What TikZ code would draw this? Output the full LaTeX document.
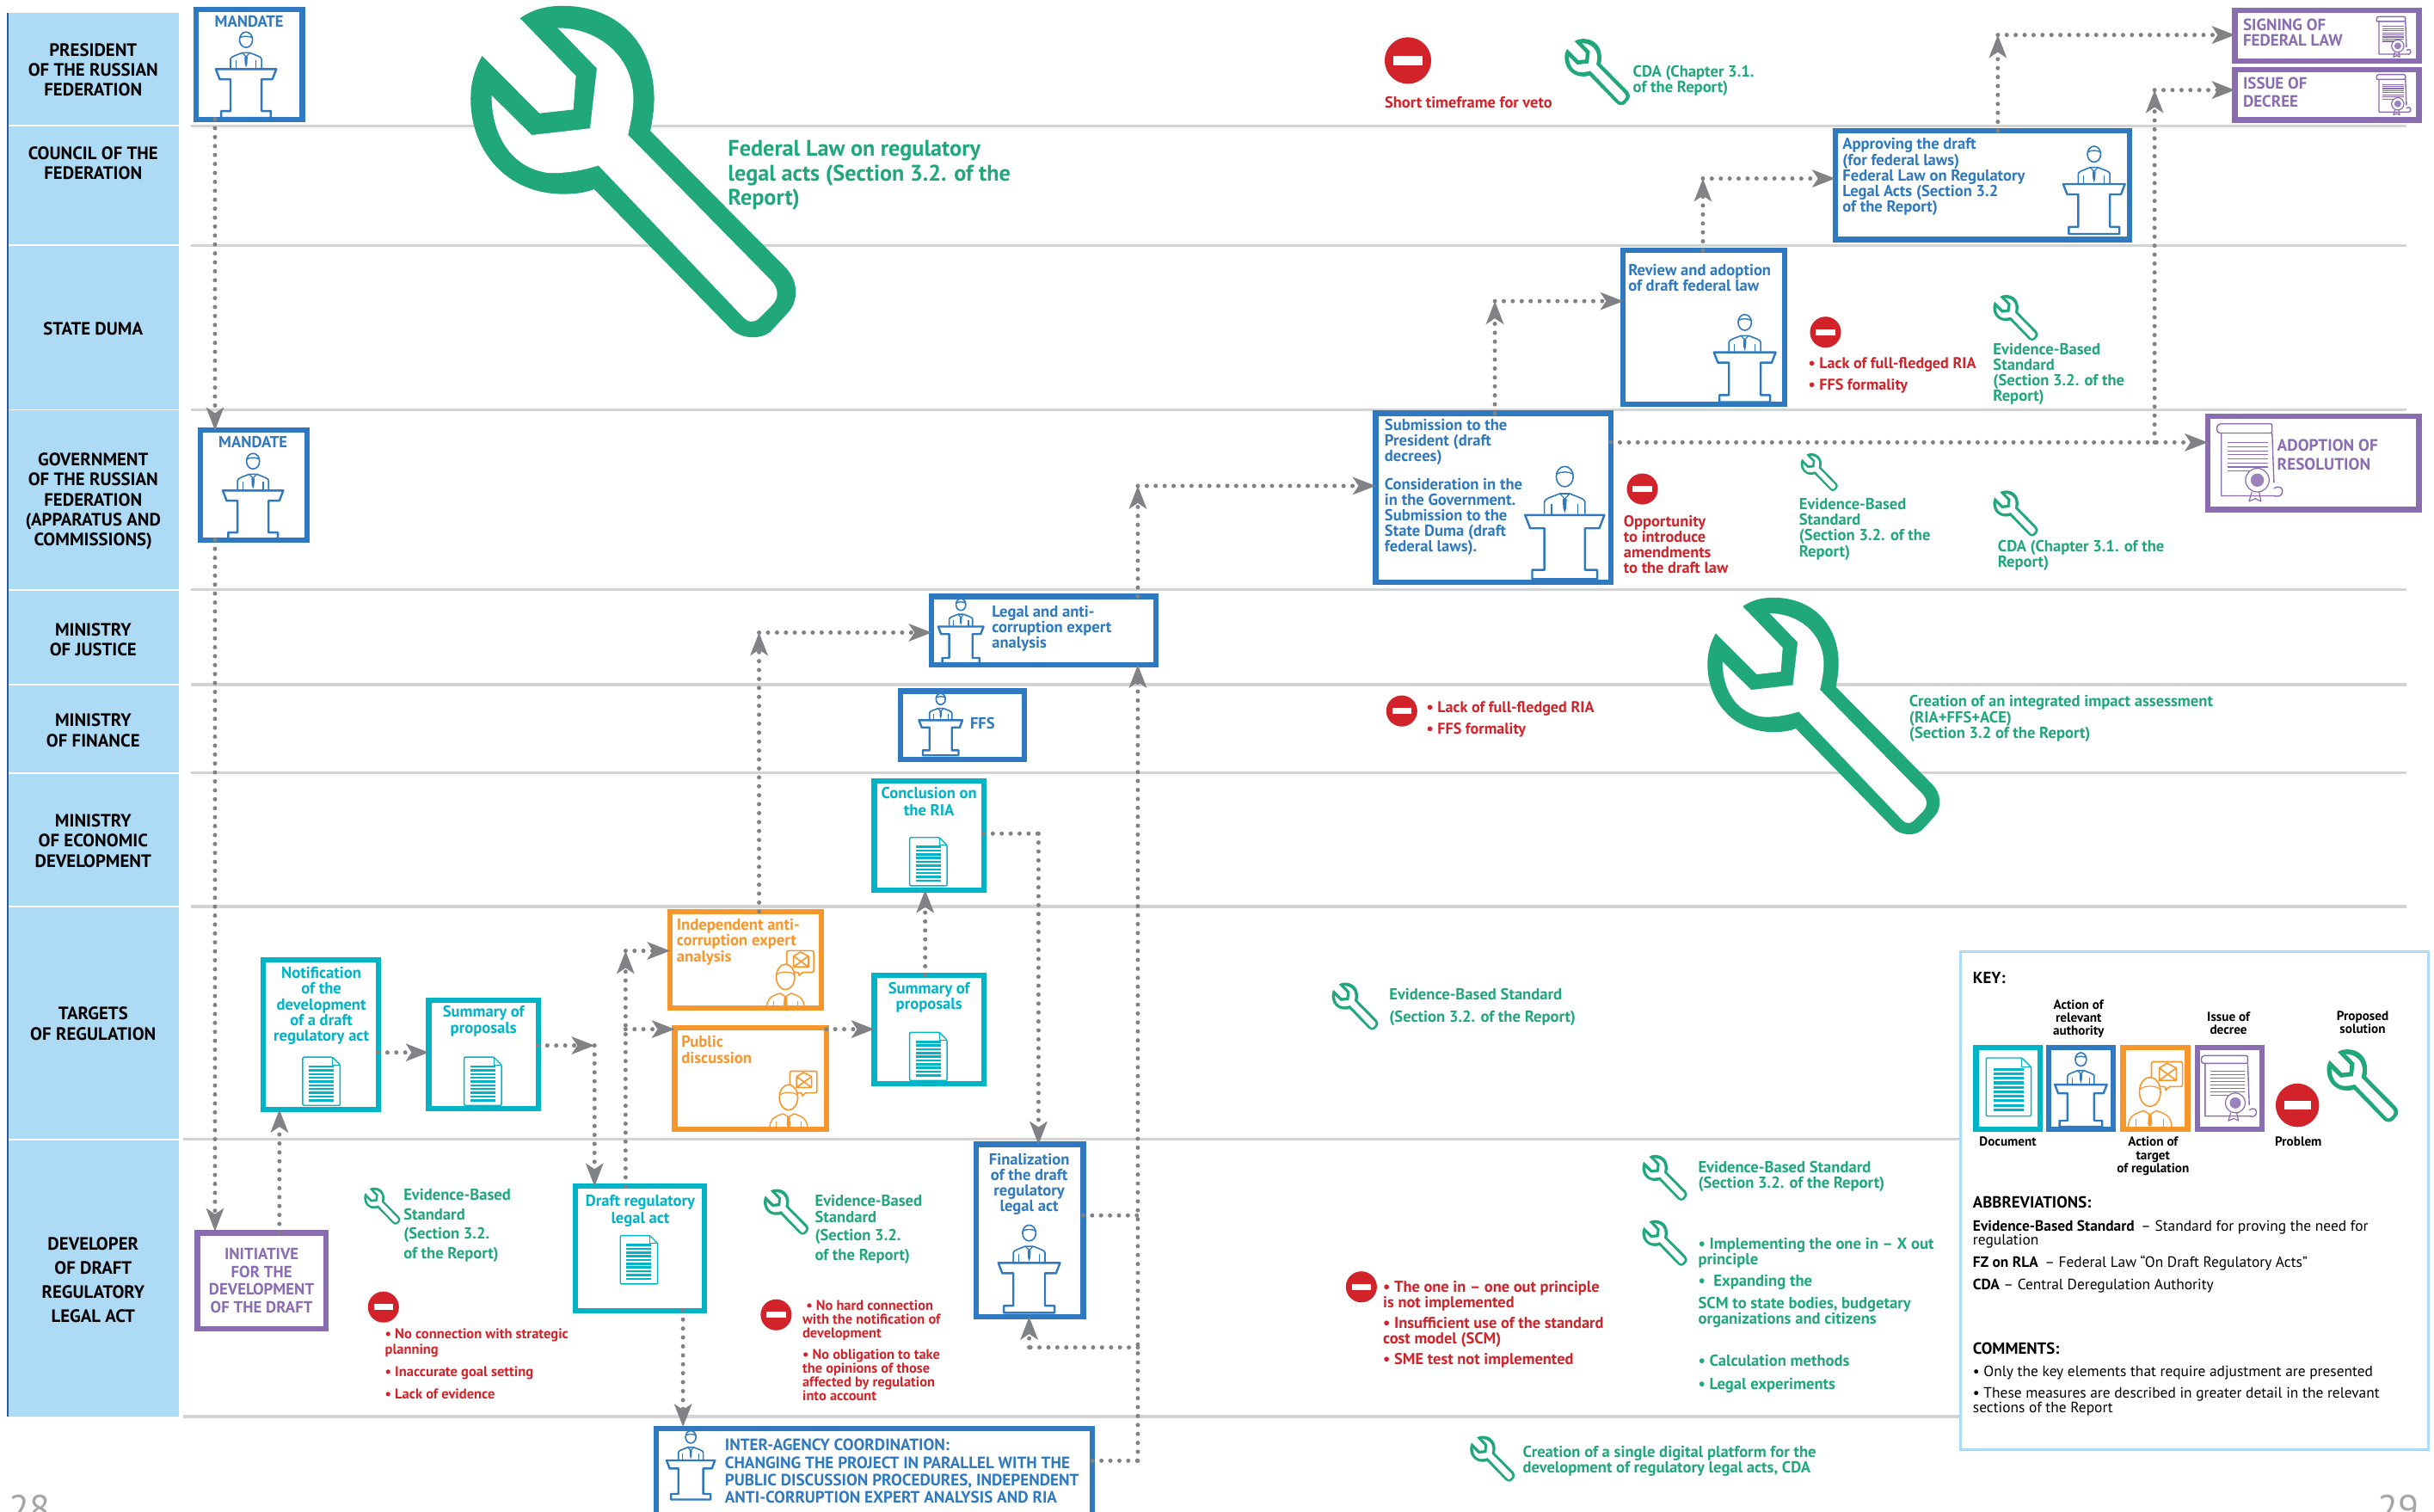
\documentclass[tikz,border=0pt]{standalone}
\usepackage{fontspec}
\setmainfont{PT Sans}
\usetikzlibrary{arrows.meta,calc}
\definecolor{cblue}{HTML}{2E79BF}
\definecolor{cteal}{HTML}{00B4C8}
\definecolor{corange}{HTML}{F7962B}
\definecolor{cpurple}{HTML}{8A6DB1}
\definecolor{cgreen}{HTML}{20A87A}
\definecolor{cred}{HTML}{D2232A}
\definecolor{csky}{HTML}{ADDAF5}
\definecolor{cline}{HTML}{D1D3D4}
\definecolor{carrow}{HTML}{808285}
\definecolor{cnavy}{HTML}{2A5A9A}
\tikzset{
 flow/.style={draw=carrow,line width=2.5pt,line cap=round,dash pattern=on 0pt off 5.2pt,
   -{Stealth[length=13.5pt,width=10.5pt,inset=3.5pt,fill=carrow,line width=0pt]}},
 flown/.style={draw=carrow,line width=2.5pt,line cap=round,dash pattern=on 0pt off 5.2pt},
 sep/.style={draw=cline,line width=1.6pt},
 txt/.style={inner sep=0pt,outer sep=0pt,anchor=north west,align=left,font=\bfseries\fontsize{9.3}{9.1}\selectfont},
 ctxt/.style={txt,anchor=north,align=center},
 rowlbl/.style={inner sep=0pt,align=center,text=black,font=\bfseries\fontsize{10.4}{11.7}\selectfont},
 keylbl/.style={ctxt,text=black,font=\bfseries\fontsize{7.6}{7.6}\selectfont},
 keytxt/.style={txt,text=black,font=\fontsize{8.7}{8.4}\selectfont},
 keyhd/.style={txt,text=black,font=\bfseries\fontsize{9.4}{9}\selectfont},
 gnote/.style={txt,text=cgreen,font=\bfseries\fontsize{9.3}{9.1}\selectfont},
 rnote/.style={txt,text=cred,font=\bfseries\fontsize{9.2}{9.1}\selectfont},
}
\newcommand{\BX}[6]{%
 \pgfmathsetmacro\bxcx{(#3+#5)/2}\pgfmathsetmacro\bxcy{(#4+#6)/2}%
 \pgfmathsetmacro\bxw{(#5-#3-3.4)*0.9025}\pgfmathsetmacro\bxh{(#6-#4-3.4)*0.9025}%
 \node[draw=#2,fill=white,line width=3.1pt,inner sep=0pt,outer sep=0pt,minimum width=\bxw pt,minimum height=\bxh pt] (#1) at (\bxcx,\bxcy) {};}
\newcommand{\spk}[4]{%
 \begin{scope}[shift={(#1,#2)},scale=#3,color=#4,line join=round]
  \draw[line width=1.2pt] (-19.5,23.5) -- (19.5,23.5) -- (17,30) -- (10,30) -- (10,50.5) -- (16,50.5) -- (16,55) -- (-16,55) -- (-16,50.5) -- (-10,50.5) -- (-10,30) -- (-17,30) -- cycle;
  \draw[line width=.8pt] (0,4.6) ellipse (4.2 and 5);
  \draw[line width=.7pt] (-4.2,3.4) .. controls (-2,2) and (2,2) .. (4.2,3.4);
  \draw[line width=.8pt] (-10,23) -- (-10,17) .. controls (-10,15.5) and (-6,14.5) .. (-2.5,13) -- (2.5,13) .. controls (6,14.5) and (10,15.5) .. (10,17) -- (10,23);
  \draw[line width=.6pt] (-6.5,18) -- (-6.5,23) (6.5,18) -- (6.5,23);
  \draw[line width=.6pt] (-2.5,13) -- (0,15.5) -- (2.5,13);
  \fill (-1,15.5) -- (1,15.5) -- (.8,20) -- (0,22.5) -- (-.8,20) -- cycle;
 \end{scope}}
\newcommand{\docicon}[3]{%
 \begin{scope}[shift={(#1,#2)},scale=#3,color=cteal,line join=round]
  \draw[line width=.7pt,rounded corners=.6pt] (0,0) -- (23,0) -- (29,6) -- (29,37.5) -- (0,37.5) -- cycle;
  \draw[line width=.5pt] (23,0) -- (23,6) -- (29,6);
  \foreach \yy in {6.5,9.4,12.3,15.2,18.1,21,23.9,26.8,29.7,32.6} \fill (4.7,\yy) rectangle (24.2,\yy+1.7);
 \end{scope}}
\newcommand{\persn}[3]{%
 \begin{scope}[shift={(#1,#2)},scale=#3,color=corange,line join=round]
  \draw[line width=.8pt,fill=white,rounded corners=1pt] (1,-42) -- (21,-42) -- (21,-26) -- (12,-26) -- (10,-23) -- (10,-26) -- (1,-26) -- cycle;
  \draw[line width=.8pt] (6,-38) -- (11,-41) -- (17,-38) -- (17,-30) -- (6,-30) -- cycle (6,-38) -- (17,-30) (17,-38) -- (6,-30);
  \draw[line width=.8pt,fill=white] (0,-22.6) ellipse (6.8 and 9.4);
  \draw[line width=.6pt] (-6.8,-24) .. controls (-4,-27) and (4,-27) .. (6.8,-24);
  \draw[line width=.7pt] (-14,0) .. controls (-13.5,-6) and (-12,-8) .. (-4,-10.5) -- (0,-8) -- (4,-10.5) .. controls (12,-8) and (13.5,-6) .. (14,0);
  \draw[line width=.5pt] (-9,0) -- (-9,-5) (9,0) -- (9,-5);
  \fill (-1,-8) -- (1,-8) -- (1.4,-2) -- (0,0) -- (-1.4,-2) -- cycle;
 \end{scope}}
\newcommand{\scrollic}[3]{%
 \begin{scope}[shift={(#1,#2)},scale=#3,color=cpurple,line join=round]
  \draw[line width=.7pt,rounded corners=1pt] (2,0) -- (30,0) -- (30,5) -- (2.5,5) .. controls (-.5,5) and (-.5,0) .. (2,0);
  \draw[line width=.7pt] (2.5,5) -- (2.5,39) -- (31,39) (30,5) -- (31,32);
  \draw[line width=.7pt] (31,35) .. controls (34,33) and (36,35) .. (35.6,37) .. controls (35,39.5) and (33,39.5) .. (31,39);
  \foreach \yy in {10.2,12.4,14.6,16.8,19,21.2,23.4} \draw[line width=.55pt] (6,\yy) -- (28,\yy);
  \foreach \yy in {25.6} \draw[line width=.55pt] (6,\yy) -- (18,\yy);
  \draw[line width=.6pt] (19,37) -- (17.5,42) -- (21,40.5) -- (24,42) -- (23,37);
  \draw[line width=.6pt,fill=white] (22,30.5) circle (6.4);
  \fill[opacity=.85] (22,30.5) circle (3.6);
 \end{scope}}
\newcommand{\wrench}[3]{%
 \pgfmathsetmacro\ws{#3/210}\pgfmathsetmacro\wx{#1-303.2*\ws}\pgfmathsetmacro\wy{#2-3.8*\ws}%
 \begin{scope}[shift={(\wx,\wy)},scale=\ws,line join=round]
  \fill[cgreen] (335,11.7) .. controls (345,5) and (354,3.8) .. (362.7,3.8) .. controls (398,3.8) and (421.4,28) .. (421.4,63.6) .. controls (421.4,72) and (420,78) .. (419,84.4) -- (505.4,171.7) .. controls (514,180) and (515,193) .. (508,201) -- (497,213) .. controls (491,219) and (477,219) .. (470,211) -- (382.8,121.9) .. controls (376,124.5) and (369,125) .. (362.7,125) .. controls (327,125) and (303.2,98) .. (303.2,63.6) .. controls (303.2,53) and (306,44) .. (310.6,36) -- (347.5,73) -- (369.4,70.6) -- (371,48.8) -- cycle;
  \fill[white] (359.3,18) .. controls (385,18) and (408,36) .. (408,63.6) .. controls (408,72) and (406,80) .. (404.6,86.9) -- (496.3,180.2) .. controls (502,186) and (502,192) .. (497,197) -- (489,205) .. controls (486,208) and (482,208) .. (478.5,204) -- (385.5,106.6) .. controls (375,110) and (363,112) .. (352.6,111.3) .. controls (330,108) and (316.7,88) .. (316.7,61.5) -- (342.5,87) -- (380.1,82.7) -- (384.5,44) -- cycle;
 \end{scope}}
\newcommand{\stopic}[3]{%
 \fill[cred] (#1,#2) circle (#3);
 \pgfmathsetmacro\sa{#3*.62}\pgfmathsetmacro\sb{#3*.2}%
 \fill[white] (#1-\sa,#2-\sb) rectangle (#1+\sa,#2+\sb);}
\begin{document}
\begin{tikzpicture}[x=0.9025pt,y=-0.9025pt]
\useasboundingbox (0,0) rectangle (1568,973.5);
\fill[white] (0,0) rectangle (1568,973.5);
% separators
\foreach \yy in {81,158,264,380,441,498,584} \draw[sep] (123,\yy) -- (1550,\yy);
\draw[sep] (118,734) -- (1262,734);
\draw[sep] (118,912.5) -- (1262,912.5);
% sidebar
\foreach \ya/\yb in {8.5/80.5,81.5/157.5,158.5/263.5,264.5/379.5,380.5/440.5,441.5/497.5,498.5/583.5,584.5/733.5,734.5/912.5}
  \fill[csky] (5,\ya) rectangle (115,\yb);
\draw[cnavy,line width=1.4pt] (5,8.5) -- (5,912.5);
\node[rowlbl] (r1) at (60,45) {PRESIDENT\\OF THE RUSSIAN\\FEDERATION};
\node[rowlbl] (r2) at (60,105) {COUNCIL OF THE\\FEDERATION};
\node[rowlbl] (r3) at (60,211.5) {STATE DUMA};
\node[rowlbl] (r4) at (60,323) {GOVERNMENT\\OF THE RUSSIAN\\FEDERATION\\(APPARATUS AND\\COMMISSIONS)};
\node[rowlbl] (r5) at (60,412) {MINISTRY\\OF JUSTICE};
\node[rowlbl] (r6) at (60,470.5) {MINISTRY\\OF FINANCE};
\node[rowlbl] (r7) at (60,541.5) {MINISTRY\\OF ECONOMIC\\DEVELOPMENT};
\node[rowlbl] (r8) at (60,659.5) {TARGETS\\OF REGULATION};
\node[rowlbl,font=\bfseries\fontsize{10.4}{14}\selectfont] (r9) at (60,824.5) {DEVELOPER\\OF DRAFT\\REGULATORY\\LEGAL ACT};
% big wrenches
\wrench{303.2}{3.8}{210}
\wrench{1100}{385}{150}
% boxes
\BX{m1}{cblue}{124.5}{4.5}{196.5}{78.5}
\BX{m2}{cblue}{127.5}{275.5}{199.5}{349.5}
\BX{init}{cpurple}{125.5}{792.5}{211.5}{857.5}
\BX{notif}{cteal}{168}{616.5}{245.5}{716.5}
\BX{sum1}{cteal}{274.5}{642.5}{348.5}{716}
\BX{indep}{corange}{430}{585.5}{531}{651}
\BX{pub}{corange}{433}{660.5}{534}{729}
\BX{sum2}{cteal}{561.5}{626.5}{635.5}{700}
\BX{draft}{cteal}{369}{762.5}{455.5}{846}
\BX{final}{cblue}{627}{735.5}{699.5}{850}
\BX{inter}{cblue}{421}{918.5}{705.5}{985}
\BX{concl}{cteal}{561.5}{501.5}{635.5}{575}
\BX{ffs}{cblue}{578.5}{443.5}{661.5}{491}
\BX{legal}{cblue}{598.5}{382.5}{746.5}{430}
\BX{subm}{cblue}{884.5}{264.5}{1039.5}{377}
\BX{review}{cblue}{1044}{159.5}{1151.5}{262}
\BX{appr}{cblue}{1180.5}{82.5}{1373.5}{156}
\BX{sign}{cpurple}{1438}{5}{1560}{41}
\BX{issue}{cpurple}{1438}{43}{1560}{79}
\BX{adopt}{cpurple}{1420.5}{266.5}{1560}{330}
% connector guide coordinates
\coordinate (xa) at (138.5,0); \coordinate (xb) at (180,0);
\coordinate (j1) at (383,673.5); \coordinate (j2) at (403,612.5); \coordinate (j3) at (403,663);
\coordinate (j4) at (489,407.5); \coordinate (j5) at (669,537); \coordinate (j6) at (733,783);
\coordinate (j7) at (733,941); \coordinate (j8) at (733,868); \coordinate (j9) at (733,313);
\coordinate (j10) at (963,194); \coordinate (j11) at (1097,115); \coordinate (j12) at (1287,22.5);
\coordinate (j13) at (1388,285); \coordinate (j14) at (1388,58); \coordinate (j15) at (663,868);
\coordinate (j16) at (596,0); \coordinate (j17) at (440,0);
% connectors
\draw[flow] (m1.south -| xa) -- (m2.north -| xa);
\draw[flow] (m2.south -| xa) -- ($(init.north -| xa)+(0,-1)$);
\draw[flow] (init.north -| xb) -- (notif.south -| xb);
\draw[flow] (notif.east |- 0,678) -- (sum1.west |- 0,678);
\draw[flow] (sum1.east |- j1) -- (j1);
\draw[flow] (j1) -- (draft.north -| j1);
\draw[flow] (draft.north -| j2) -- (j2);
\draw[flow] (j2) -- (indep.west |- j2);
\draw[flow] (j3) -- (pub.west |- j3);
\draw[flow] (pub.east |- j3) -- (sum2.west |- j3);
\draw[flow] (sum2.north -| j16) -- (concl.south -| j16);
\draw[flown] (concl.east |- j5) -- (j5);
\draw[flow] (j5) -- (final.north -| j5);
\draw[flow] (indep.north -| j4) -- (j4);
\draw[flow] (j4) -- (legal.west |- j4);
\draw[flow] (draft.south -| j17) -- ($(inter.north -| j17)+(0,-1)$);
\draw[flown] (final.east |- j6) -- (j6);
\draw[flown] (inter.east |- j7) -- (j7);
\draw[flow] (j7) -- (legal.south -| j7);
\draw[flown] (j8) -- (j15);
\draw[flow] (j15) -- (final.south -| j15);
\draw[flow] (legal.north -| j9) -- (j9);
\draw[flow] (j9) -- (subm.west |- j9);
\draw[flow] (subm.north -| j10) -- (j10);
\draw[flow] (j10) -- (review.west |- j10);
\draw[flow] (review.north -| j11) -- (j11);
\draw[flow] (j11) -- (appr.west |- j11);
\draw[flow] (appr.north -| j12) -- (j12);
\draw[flow] (j12) -- (sign.west |- j12);
\draw[flow] (subm.east |- j13) -- (adopt.west |- j13);
\draw[flow] (j13) -- (j14);
\draw[flow] (j14) -- (issue.west |- j14);
% speaker icons
\spk{158.5}{21}{1}{cblue}
\spk{163}{292.5}{1}{cblue}
\spk{606}{447}{.72}{cblue}
\spk{619}{386}{.75}{cblue}
\spk{1008}{301}{1.31}{cblue}
\spk{1124}{203}{1.02}{cblue}
\spk{1349}{94.6}{1.02}{cblue}
\spk{663}{789.6}{1.02}{cblue}
\spk{445}{922}{.8}{cblue}
% document icons
\docicon{195}{681}{.83}
\docicon{299}{681}{.83}
\docicon{586}{665}{.83}
\docicon{586}{539.5}{.83}
\docicon{399.6}{796}{.83}
% people
\persn{506}{649}{.87}
\persn{508}{726.6}{.87}
% scrolls
\scrollic{1531}{10.7}{.62}
\scrollic{1531}{48}{.62}
\scrollic{1428}{273}{1.19}
% small wrenches
\wrench{1008}{25}{42}
\wrench{1160}{292}{24}
\wrench{1284}{190}{29}
\wrench{1284}{316}{29}
\wrench{858}{633}{30}
\wrench{234.5}{765}{23.5}
\wrench{492}{766}{29}
\wrench{1058}{744}{29}
\wrench{1058}{786}{29}
\wrench{947}{925}{29}
% stop icons
\stopic{907}{39}{15}
\stopic{1176}{214}{10}
\stopic{1058}{315}{10}
\stopic{903}{458}{10}
\stopic{247}{842}{10}
\stopic{500}{847}{10}
\stopic{877}{829}{10}
% box texts
\node[ctxt,text=cblue] (tm1) at (160.5,10) {MANDATE};
\node[ctxt,text=cblue] (tm2) at (163,281) {MANDATE};
\node[ctxt,text=cpurple,font=\bfseries\fontsize{9.4}{10.4}\selectfont] (tinit) at (168.5,804) {INITIATIVE\\FOR THE\\DEVELOPMENT\\OF THE DRAFT};
\node[ctxt,text=cteal] (tnot) at (207,623) {Notification\\of the\\development\\of a draft\\regulatory act};
\node[ctxt,text=cteal] (ts1) at (311.5,648) {Summary of\\proposals};
\node[txt,text=corange] (tind) at (436,592) {Independent anti-\\corruption expert\\analysis};
\node[txt,text=corange] (tpub) at (439,667.5) {Public\\discussion};
\node[ctxt,text=cteal] (ts2) at (598.5,633) {Summary of\\proposals};
\node[ctxt,text=cteal,font=\bfseries\fontsize{9.3}{10}\selectfont] (tdr) at (412.5,770) {Draft regulatory\\legal act};
\node[ctxt,text=cblue] (tfin) at (663,743) {Finalization\\of the draft\\regulatory\\legal act};
\node[txt,text=cblue,font=\bfseries\fontsize{9.55}{10.2}\selectfont] (tint) at (467,927) {INTER-AGENCY COORDINATION:\\CHANGING THE PROJECT IN PARALLEL WITH THE\\PUBLIC DISCUSSION PROCEDURES, INDEPENDENT\\ANTI-CORRUPTION EXPERT ANALYSIS AND RIA};
\node[ctxt,text=cteal,font=\bfseries\fontsize{9.3}{10}\selectfont] (tcon) at (598.5,507) {Conclusion on\\the RIA};
\node[txt,text=cblue] (tffs) at (625,462) {FFS};
\node[txt,text=cblue] (tleg) at (639,390) {Legal and anti-\\corruption expert\\analysis};
\node[txt,text=cblue] (tsub1) at (892,270) {Submission to the\\President (draft\\decrees)};
\node[txt,text=cblue] (tsub2) at (892,308) {Consideration in the\\in the Government.\\Submission to the\\State Duma (draft\\federal laws).};
\node[txt,text=cblue] (trev) at (1049,170) {Review and adoption\\of draft federal law};
\node[txt,text=cblue] (tapp) at (1187,89) {Approving the draft\\(for federal laws)\\Federal Law on Regulatory\\Legal Acts (Section 3.2\\of the Report)};
\node[txt,text=cpurple,font=\bfseries\fontsize{9.5}{9.3}\selectfont] (tsig) at (1445,12) {SIGNING OF\\FEDERAL LAW};
\node[txt,text=cpurple,font=\bfseries\fontsize{9.5}{10.3}\selectfont] (tiss) at (1445,50) {ISSUE OF\\DECREE};
\node[txt,text=cpurple,font=\bfseries\fontsize{9.6}{10.8}\selectfont] (tado) at (1467,283) {ADOPTION OF\\RESOLUTION};
% green notes
\node[txt,text=cgreen,font=\bfseries\fontsize{13.1}{14.2}\selectfont] (g1) at (469,90.5) {Federal Law on regulatory\\legal acts (Section 3.2. of the\\Report)};
\node[gnote] (g2) at (1052,42) {CDA (Chapter 3.1.\\of the Report)};
\node[gnote] (g3) at (1159,321) {Evidence-Based\\Standard\\(Section 3.2. of the\\Report)};
\node[gnote] (g4) at (1284,221) {Evidence-Based\\Standard\\(Section 3.2. of the\\Report)};
\node[gnote] (g5) at (1287,348) {CDA (Chapter 3.1. of the\\Report)};
\node[gnote] (g6) at (1230,448) {Creation of an integrated impact assessment\\(RIA+FFS+ACE)\\(Section 3.2 of the Report)};
\node[gnote,font=\bfseries\fontsize{9.3}{12.6}\selectfont] (g7) at (895,637) {Evidence-Based Standard\\(Section 3.2. of the Report)};
\node[gnote] (g8) at (1094,748) {Evidence-Based Standard\\(Section 3.2. of the Report)};
\node[gnote] (g9) at (1094,797.5) {• Implementing the one in – X out\\principle};
\node[gnote] (g10) at (1094,821.5) {•\ \ Expanding the};
\node[gnote] (g11) at (1094,835.5) {SCM to state bodies, budgetary\\organizations and citizens};
\node[gnote] (g12) at (1094,873) {• Calculation methods};
\node[gnote] (g13) at (1094,887.5) {• Legal experiments};
\node[gnote] (g14) at (981,931.5) {Creation of a single digital platform for the\\development of regulatory legal acts, CDA};
\node[gnote,font=\bfseries\fontsize{9.3}{11.3}\selectfont] (g15) at (260,766) {Evidence-Based\\Standard\\(Section 3.2.\\of the Report)};
\node[gnote] (g16a) at (525,770) {Evidence-Based\\Standard};
\node[gnote,font=\bfseries\fontsize{9.3}{11.5}\selectfont] (g16b) at (525,792) {(Section 3.2.\\of the Report)};
% red notes
\node[ctxt,text=cred,font=\bfseries\fontsize{9.2}{9}\selectfont] (p1) at (946,62) {Short timeframe for veto};
\node[rnote,font=\bfseries\fontsize{9.05}{12.6}\selectfont] (p2) at (1165,230) {• Lack of full-fledged RIA\\• FFS formality};
\node[rnote] (p3) at (1046,332) {Opportunity\\to introduce\\amendments\\to the draft law};
\node[rnote,font=\bfseries\fontsize{9.05}{12.6}\selectfont] (p4) at (919,452) {• Lack of full-fledged RIA\\• FFS formality};
\node[rnote] (p5a) at (891,825) {• The one in – one out principle\\is not implemented};
\node[rnote] (p5b) at (891,848.5) {• Insufficient use of the standard\\cost model (SCM)};
\node[rnote] (p5c) at (891,872) {• SME test not implemented};
\node[rnote,font=\bfseries\fontsize{8.25}{8.8}\selectfont] (p6a) at (248,856) {• No connection with strategic\\planning};
\node[rnote,font=\bfseries\fontsize{8.25}{8.8}\selectfont] (p6b) at (248,880.5) {• Inaccurate goal setting};
\node[rnote,font=\bfseries\fontsize{8.25}{8.8}\selectfont] (p6c) at (248,894.5) {• Lack of evidence};
\node[rnote,font=\bfseries\fontsize{8.2}{8}\selectfont] (p7a) at (517,837.5) {\ • No hard connection\\with the notification of\\development};
\node[rnote,font=\bfseries\fontsize{8.2}{8}\selectfont] (p7b) at (517,869) {• No obligation to take\\the opinions of those\\affected by regulation\\into account};
% key
\node[draw=csky,fill=white,line width=1.4pt,inner sep=0pt,minimum width=272pt,minimum height=289.5pt] (key) at (1413.5,773.5) {};
\node[keyhd] (kh1) at (1271,626) {KEY:};
\BX{kdoc}{cteal}{1271.3}{673}{1316}{729}
\BX{kspk}{cblue}{1318}{673}{1363}{729}
\BX{kper}{corange}{1366}{673}{1411}{729}
\BX{kscr}{cpurple}{1414}{673}{1459}{729}
\docicon{1279.5}{681.5}{1}
\spk{1340.5}{678.5}{.86}{cblue}
\persn{1385}{726}{1}
\scrollic{1418}{680}{1}
\stopic{1480}{712}{14}
\wrench{1499}{676}{46}
\node[keylbl] (k1) at (1339,644) {Action of\\relevant\\authority};
\node[keylbl] (k2) at (1435.6,652) {Issue of\\decree};
\node[keylbl] (k3) at (1522,651.5) {Proposed\\solution};
\node[keylbl] (k4) at (1293.5,732.5) {Document};
\node[keylbl] (k5) at (1387,732.5) {Action of\\target\\of regulation};
\node[keylbl] (k6) at (1480.6,732.5) {Problem};
\node[keyhd] (kh2) at (1271,771) {ABBREVIATIONS:};
\node[keytxt] (k7) at (1271,786) {\textbf{Evidence-Based Standard} \,– Standard for proving the need for\\regulation};
\node[keytxt] (k8) at (1271,809) {\textbf{FZ on RLA} \,– Federal Law “On Draft Regulatory Acts”};
\node[keytxt] (k9) at (1271,824) {\textbf{CDA} – Central Deregulation Authority};
\node[keyhd] (kh3) at (1271,865) {COMMENTS:};
\node[keytxt] (k10) at (1271,880) {• Only the key elements that require adjustment are presented};
\node[keytxt] (k11) at (1271,894) {• These measures are described in greater detail in the relevant\\sections of the Report};
% page numbers
\node[inner sep=0pt,text=gray!70,font=\fontsize{22}{22}\selectfont,anchor=base] (pg1) at (19,980.5) {28};
\node[inner sep=0pt,text=gray!70,font=\fontsize{22}{22}\selectfont,anchor=base] (pg2) at (1545,980.5) {29};
\end{tikzpicture}
\end{document}
